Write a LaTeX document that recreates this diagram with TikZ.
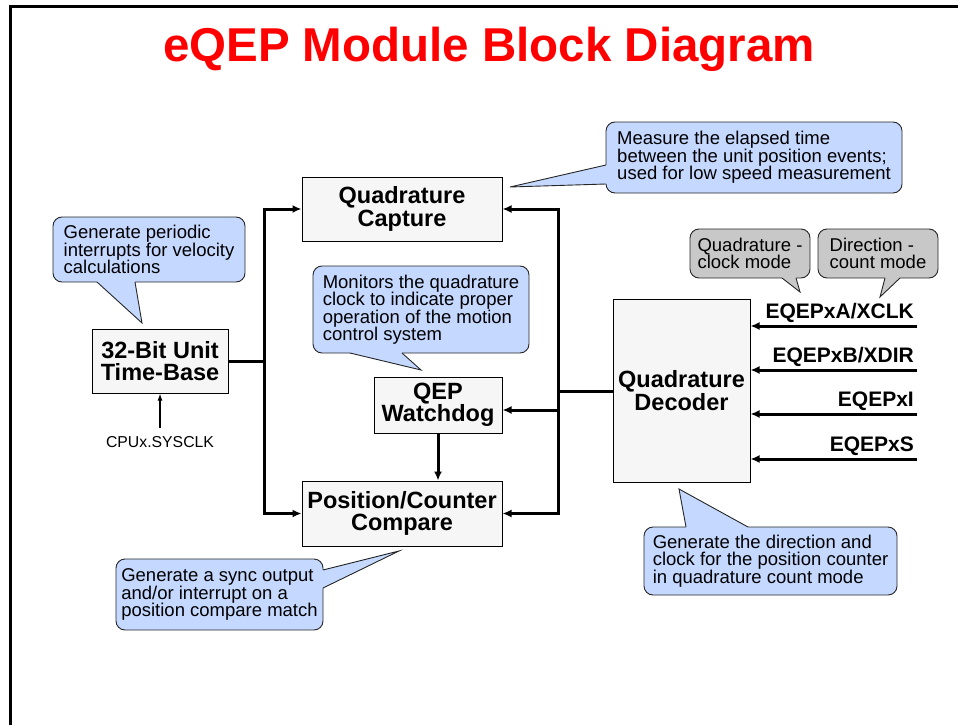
\documentclass[tikz,border=0pt]{standalone}
\usepackage{fontspec}
\setmainfont{Liberation Sans}
\usepackage{tikz}
\usetikzlibrary{arrows.meta}

% pointer of a callout: colour, base 1, base 2, tip, inward shift
\newcommand{\calloutTip}[5]{%
  \fill[#1] ([shift={(#5)}]#2) -- (#2) -- (#4) -- (#3) -- ([shift={(#5)}]#3) -- cycle;
  \draw[tipline] (#2) -- (#4) -- (#3);}

\begin{document}
\begin{tikzpicture}[x=1pt, y=-1pt, >=Latex, line join=miter]

		% Colors
		\definecolor{TitleRed}{RGB}{255,0,0}
		\definecolor{NoteBlue}{RGB}{197,216,255}
		\definecolor{NoteGrey}{RGB}{200,200,200}
		\definecolor{BoxFill}{RGB}{246,246,246}

		% Styles
		\tikzset{
			block/.style={
				draw=black, line width=1pt, fill=BoxFill, inner sep=0pt,
				align=center, font=\bfseries\fontsize{23.5}{22.5}\selectfont
			},
			note/.style={
				draw=black!85, line width=0.9pt, rounded corners=9pt, fill=NoteBlue,
				inner sep=0pt, align=left, font=\fontsize{18.5}{17.5}\selectfont
			},
			greynote/.style={note, fill=NoteGrey},
			tipline/.style={draw=black!85, line width=0.9pt},
			bus/.style={line width=3pt},
			arr/.style={bus, -{Latex[length=9pt,width=8pt]}},
			sig/.style={font=\bfseries\fontsize{21}{21}\selectfont, inner sep=0pt}
		}

		\useasboundingbox (0,0) rectangle (958,725);

		% Frame and title
		\draw[line width=3pt] (10,725) -- (10,7) -- (958,7);
		\node[font=\bfseries\fontsize{47.5}{47.5}\selectfont, text=TitleRed, anchor=base]
			(title) at (489,62) {eQEP Module Block Diagram};

		% Blocks
		\node[block, minimum width=200pt, minimum height=64pt] (cap) at (402,209)
			{Quadrature\\Capture};
		\node[block, minimum width=136pt, minimum height=64pt] (tb) at (160,361)
			{32-Bit Unit\\Time-Base};
		\node[block, minimum width=128pt, minimum height=56pt] (wd) at (438,405)
			{QEP\\Watchdog};
		\node[block, minimum width=200pt, minimum height=65pt] (pcc) at (402,513.5)
			{Position/Counter\\Compare};
		\node[block, minimum width=137pt, minimum height=183pt] (dec) at (681.5,390.5)
			{Quadrature\\Decoder};

		\node[inner sep=8pt, anchor=base, font=\fontsize{15.8}{15.8}\selectfont]
			(clk) at (160,447) {CPUx.SYSCLK};

		% Bus lines
		\coordinate (lb) at (264,361);
		\coordinate (rb) at (558,391);

		\draw[bus] (tb.east) -- (lb);
		\draw[arr] (lb) |- (cap.west);
		\draw[arr] (lb) |- (pcc.west);

		\draw[bus] (dec.west |- rb) -- (rb);
		\draw[arr] (rb) |- (cap.east);
		\draw[arr] (rb) |- ([yshift=-5pt]wd.east);
		\draw[arr] (rb) |- (pcc.east);

		\draw[arr] (wd.south) -- (wd.south |- pcc.north);
		\draw[line width=1.3pt, -{Latex[length=7pt,width=5pt]}] (clk.north) -- (tb.south);

		% Inputs
		\coordinate (inA) at (917,326);
		\coordinate (inB) at (917,370);
		\coordinate (inI) at (917,414);
		\coordinate (inS) at (917,459);

		\draw[arr] (inA) -- (inA -| dec.east);
		\draw[arr] (inB) -- (inB -| dec.east);
		\draw[arr] (inI) -- (inI -| dec.east);
		\draw[arr] (inS) -- (inS -| dec.east);

		\node[sig, anchor=base east] (labA) at ([shift={(-3,-8)}]inA) {EQEPxA/XCLK};
		\node[sig, anchor=base east] (labB) at ([shift={(-3,-8)}]inB) {EQEPxB/XDIR};
		\node[sig, anchor=base east] (labI) at ([shift={(-3,-8)}]inI) {EQEPxI};
		\node[sig, anchor=base east] (labS) at ([shift={(-3,-8)}]inS) {EQEPxS};

		% Callouts
		\node[note, minimum width=192pt, minimum height=65pt] (per) at (149,249.5)
			{Generate periodic\\interrupts for velocity\\calculations};
		\calloutTip{NoteBlue}{97,282}{135,282}{142,323}{0,-2}

		\node[note, minimum width=296pt, minimum height=71pt] (meas) at (754,157.5)
			{Measure the elapsed time\\between the unit position events;\\used for low speed measurement};
		\calloutTip{NoteBlue}{606,165}{606,184}{510,187}{2,0}

		\node[note, minimum width=216pt, minimum height=87pt] (mon) at (421,309.5)
			{Monitors the quadrature\\clock to indicate proper\\operation of the motion\\control system};
		\calloutTip{NoteBlue}{350,353}{402,353}{421,370}{0,-2}

		\node[note, minimum width=207pt, minimum height=71pt] (sync) at (219.5,594.5)
			{Generate a sync output\\and/or interrupt on a\\position compare match};
		\calloutTip{NoteBlue}{323,570}{323,588}{399,551}{-2,0}

		\node[note, minimum width=253pt, minimum height=68pt] (dirn) at (770.5,561)
			{Generate the direction and\\clock for the position counter\\in quadrature count mode};
		\calloutTip{NoteBlue}{686,527}{748,527}{679,489}{0,2}

		\node[greynote, minimum width=120pt, minimum height=49pt] (qclk) at (750,253.5)
			{Quadrature -\\clock mode};
		\calloutTip{NoteGrey}{782,278}{796,278}{800,292}{0,-2}

		\node[greynote, minimum width=120pt, minimum height=49pt] (dcnt) at (878,253.5)
			{Direction -\\count mode};
		\calloutTip{NoteGrey}{885,278}{900,278}{880,297}{0,-2}

	\end{tikzpicture}
\end{document}
